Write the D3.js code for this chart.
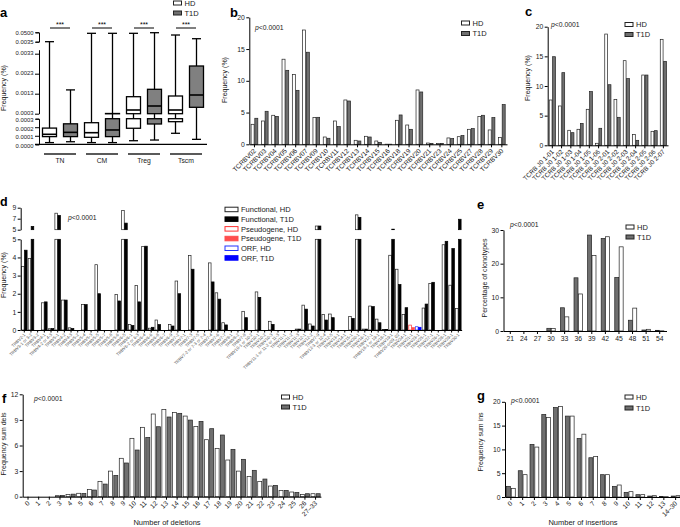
<!DOCTYPE html>
<html><head><meta charset="utf-8">
<script src="https://cdn.jsdelivr.net/npm/d3@7"></script>
<style>body{margin:0;background:#fff}svg{display:block}</style>
</head><body><svg id="c" width="680" height="527"></svg>
<script>
// ---------- DATA ----------
// panel a: box stats [min, q1, median, q3, max] (frequency %)
const aGroups = ["TN","CM","Treg","Tscm"];
const aHD  = [[0.00002,0.00009,0.000117,0.00019,0.0036],[0.00002,0.000082,0.000136,0.000253,0.045],[0.000042,0.000188,0.000485,0.00115,0.045],[0.000129,0.000265,0.000485,0.001185,0.0366]];
const aT1D = [[0.00003,0.00009,0.00014,0.00024,0.00149],[0.00002,0.00009,0.000168,0.00031,0.045],[0.00005,0.000238,0.000685,0.00152,0.048],[0.000058,0.00062,0.001235,0.002685,0.0183]];
const aTicksBottom = [0,0.0001,0.0002,0.0003];
const aTicksMid = [0.0003,0.0013,0.0023,0.0033];
const aTicksTop = [0.0035,0.05];

// panel b: TCRBV families
const bCats = ["TCRBV02","TCRBV03","TCRBV04","TCRBV05","TCRBV06","TCRBV07","TCRBV09","TCRBV10","TCRBV11","TCRBV12","TCRBV13","TCRBV14","TCRBV15","TCRBV16","TCRBV18","TCRBV19","TCRBV20","TCRBV21","TCRBV23","TCRBV24","TCRBV25","TCRBV27","TCRBV28","TCRBV29","TCRBV30"];
const bHD  = [3.15,3.67,4.57,13.4,11.0,18.0,4.2,1.15,3.67,6.98,0.63,1.26,0.52,0.02,3.78,3.04,8.56,0.2,0.15,1.0,1.2,2.36,4.36,2.26,1.05];
const bT1D = [4.1,5.2,4.4,11.65,8.5,14.5,4.25,0.95,2.78,6.82,0.52,1.15,0.31,0.02,4.62,2.36,8.24,0.15,0.15,0.9,1.37,2.47,4.57,4.2,6.25];
const bTicks = [0,5,10,15,20];

// panel c: TCRBJ genes
const cCats = ["TCRB J0 1-01","TCRB J0 1-02","TCRB J0 1-03","TCRB J0 1-04","TCRB J0 1-05","TCRB J0 1-06","TCRB J0 2-01","TCRB J0 2-02","TCRB J0 2-03","TCRB J0 2-04","TCRB J0 2-05","TCRB J0 2-06","TCRB J0 2-07"];
const cHD  = [7.64,6.63,2.53,2.7,6.07,0.34,18.76,7.75,14.27,1.8,11.85,2.36,17.87];
const cT1D = [14.94,12.25,2.13,3.7,9.05,2.87,10.22,4.72,11.24,0.84,11.85,2.47,14.16];
const cTicks = [0,5,10,15,20];

// panel d: TRBV genes (F functional, P pseudogene, O ORF)
const dGenes = ["TRBV2-1","TRBV3-1 or 3-2","TRBV3-2","TRBV4-1","TRBV4-2 or 4-3","TRBV5-1","TRBV4-2","TRBV4-3","TRBV5-2","TRBV5-4","TRBV5-3","TRBV5-5","TRBV5-7","TRBV5-8","TRBV5-6","TRBV6-5","TRBV6-1","TRBV6-2 or 6-3","TRBV6-4","TRBV6-6","TRBV6-8","TRBV6-7","TRBV6-9","TRBV7-2","TRBV7-1","TRBV7-3","TRBV7-5","TRBV7-2 or 7-3 or 7-4","TRBV7-4","TRBV7-6","TRBV7-7","TRBV8-1","TRBV8-2","TRBV7-8","TRBV10-1 or 10-2","TRBV10-1","TRBV10-2","TRBV10-3","TRBV11-1 or 11-2 or 11-3","TRBV11-1","TRBV11-2","TRBV11-3","TRBV12-1","TRBV12-2","TRBV7-9","TRBV12-3 or 12-4","TRBV12-5","TRBV13-1","TRBV14-1","TRBV15-1","TRBV20-1","TRBV16-1","TRBV17-1","TRBV18-1 or 19-1","TRBV18-1","TRBV19-1","TRBV20-or09_02","TRBV24-1","TRBV21-1","TRBV23-1","TRBV25-1","TRBV27-1","TRBV26-1","TRBV28-1","TRBV29-1","TRBV30-1"];
const dHD  = [3.5,3.95,0,1.5,0.07,8.0,1.65,0.12,0,1.4,0,3.6,0,0,1.95,8.5,0.3,2.45,4.6,0.1,0.55,0,0.3,2.7,0,4.1,0,0,3.7,2.05,0.4,0,0,1.03,0,2.1,0,0.48,0,0,0,0.05,1.37,0.33,5.67,0.85,0.88,0,0,0.75,7.7,0.05,1.32,0.6,0.03,4.12,3.35,0.86,0.27,0.18,1.21,2.56,0,4.7,2.47,1.19];
const dT1D = [4.4,5.6,0,1.55,0.08,7.6,1.65,0.08,0,1.4,0,2.0,0,0,1.6,6.2,0.25,1.55,4.62,0.15,0.3,0,0.22,2.0,0,3.35,0,0,2.65,1.7,0.28,0,0,0.68,0,1.8,0,0.31,0,0,0,0.05,1.15,0.22,5.67,0.55,0.68,0,0,0.64,7.25,0.05,1.29,0.4,0.03,5.1,2.51,1.23,0.13,0.15,1.43,2.63,0,4.89,4.49,6.9];
const dType = dGenes.map(g => g==="TRBV21-1" ? "P" : (g==="TRBV23-1" ? "O" : "F"));
const dTicksLow = [0,1,2,3,4,5];
const dTicksHigh = [5,7,9];

// panel e: CDR3 length
const eCats = ["21","24","27","30","33","36","39","42","45","48","51","54"];
const eT1D = [0,0,0,0.8,6.9,15.8,28.5,27.5,15.9,3.2,0.3,0.2];
const eHD  = [0,0,0,0.7,4.2,11.0,22.4,28.0,25.0,6.8,0.5,0.05];
const eTicks = [0,10,20,30];

// panel f: deletions
const fCats = ["0","1","2","3","4","5","6","7","8","9","10","11","12","13","14","15","16","17","18","19","20","21","22","23","24","25","26","27\u201333"];
const fHD  = [0,0,0,0.12,0.27,0.4,0.86,1.8,3.0,4.5,6.84,8.13,9.69,10.23,9.88,9.45,8.24,6.68,5.66,4.3,3.0,2.38,1.8,1.25,0.74,0.55,0.27,0.35];
const fT1D = [0,0,0,0.15,0.3,0.38,0.78,1.48,2.5,3.95,5.47,6.95,8.2,9.34,9.77,8.98,8.83,7.97,7.23,5.55,4.38,3.09,2.07,1.33,0.74,0.5,0.35,0.35];
const fTicks = [0,3,6,9,12];

// panel g: insertions
const gCats = ["0","1","2","3","4","5","6","7","8","9","10","11","12","13","14\u201330"];
const gT1D = [2.24,5.52,11.05,17.34,18.8,17.0,12.3,8.25,4.69,2.24,0.98,0.49,0.2,0.1,0.2];
const gHD  = [1.82,4.69,10.49,16.71,19.0,17.0,13.2,8.53,4.69,2.52,1.12,0.49,0.28,0.07,0.28];
const gTicks = [0,5,10,15,20];

// ---------- DRAWING ----------
const FONT = '"Liberation Sans", Arial, Helvetica, sans-serif';
const svg = d3.select("#c").attr("font-family", FONT);
const GREY = "#6f6f6f";
const TXT = "#1a1a1a";

function styleAxis(g, fs){
  g.selectAll("path.domain").attr("stroke","#000").attr("stroke-width",1);
  g.selectAll(".tick line").attr("stroke","#000").attr("stroke-width",1);
  g.selectAll(".tick text").attr("font-family",FONT).attr("font-size",fs).attr("fill",TXT);
}
function letter(t,x,y,fs){ svg.append("text").attr("x",x).attr("y",y).attr("font-weight","bold").attr("font-size",fs||13).attr("fill","#000").text(t); }
function yTitle(t,x,y,fs){ svg.append("text").attr("transform",`translate(${x},${y}) rotate(-90)`).attr("text-anchor","middle").attr("font-size",fs||7).attr("fill",TXT).text(t); }
function pText(x,y){ const t=svg.append("text").attr("x",x).attr("y",y).attr("font-size",6.8).attr("fill",TXT); t.append("tspan").attr("font-style","italic").text("p"); t.append("tspan").text("<0.0001"); }
function legend(x,y,items,dy,fs,bw,bh){
  items.forEach((it,i)=>{
    const yy = y + i*(dy||10);
    svg.append("rect").attr("x",x).attr("y",yy).attr("width",bw||8).attr("height",bh||4).attr("fill",it.fill).attr("stroke",it.stroke).attr("stroke-width",1);
    svg.append("text").attr("x",x+(bw||8)+3).attr("y",yy+(bh||4)+0.5).attr("font-size",fs||7.5).attr("fill",TXT).text(it.label);
  });
}
const HDs = {label:"HD", fill:"#fff", stroke:"#222"};
const T1Ds = {label:"T1D", fill:GREY, stroke:"#222"};

function barPanel(o){
  const x = d3.scaleBand().domain(o.cats).range([o.x0,o.x1]);
  const y = d3.scaleLinear().domain([0,o.max]).range([o.y0,o.y1]);
  const g = svg.append("g");
  o.series.forEach((s,si)=>{
    const off = si===0 ? -(o.bw + o.gap/2) : o.gap/2;
    g.selectAll(null).data(o.cats.map((c,i)=>({c,v:s.vals[i]})).filter(d=>d.v>0)).enter().append("rect")
      .attr("x", d=>x(d.c)+x.bandwidth()/2+off)
      .attr("y", d=>y(d.v)).attr("width",o.bw).attr("height",d=>o.y0-y(d.v))
      .attr("fill",s.fill).attr("stroke","#222").attr("stroke-width",0.7);
  });
  const ya = g.append("g").attr("transform",`translate(${o.x0},0)`)
    .call(d3.axisLeft(y).tickValues(o.ticks).tickSize(3).tickPadding(1.5).tickSizeOuter(0).tickFormat(d3.format("d")));
  styleAxis(ya, o.tfs||6.8);
  const xa = g.append("g").attr("transform",`translate(0,${o.y0})`)
    .call(d3.axisBottom(x).tickSize(3).tickSizeOuter(0).tickPadding(2));
  styleAxis(xa, o.xfs||6.8);
  if(o.rotate){
    xa.selectAll(".tick text").attr("x",0).attr("y",0).attr("dy",0)
      .attr("text-anchor","end").attr("transform",`translate(${o.rdx||2},${o.rdy||7}) rotate(-45)`);
  }
  return {x,y};
}

// ===== Panel a =====
letter("a",0,17);
legend(173.5,1,[HDs,T1Ds],10,7.5,8,4);
yTitle("Frequency (%)",6,88,7);
const aSegs = [
  {d:[0,0.0003], r:[144.3,118.7], t:aTicksBottom, outer:3, shift:0.9},
  {d:[0.0003,0.0035], r:[113.7,49.7], t:aTicksMid, outer:0, shift:-0.9},
  {d:[0.0035,0.05], r:[41.7,32.3], t:aTicksTop, outer:3, shift:0}
];
aSegs.forEach(s=>{ s.sc = d3.scaleLinear().domain(s.d).range(s.r); });
function aY(v){ const s = v<=0.0003 ? aSegs[0] : (v<=0.0035 ? aSegs[1] : aSegs[2]); return s.sc(v); }
aSegs.forEach(s=>{
  const ax = svg.append("g").attr("transform","translate(39,0)")
    .call(d3.axisLeft(s.sc).tickValues(s.t).tickSize(4).tickPadding(1.5).tickSizeOuter(s.outer).tickFormat(d3.format(".4f")));
  styleAxis(ax,5.9);
  ax.selectAll(".tick text").attr("y",s.shift);
});
svg.append("line").attr("x1",35).attr("x2",207).attr("y1",144.3).attr("y2",144.3).attr("stroke","#000").attr("stroke-width",1.2);
const aX = d3.scaleBand().domain(aGroups).range([39,207]);
function drawBox(cx, st, fill){
  const [mn,q1,md,q3,mx] = st, w=14, cw=9;
  const g = svg.append("g").attr("stroke","#000").attr("stroke-width",1.3);
  g.append("line").attr("x1",cx).attr("x2",cx).attr("y1",aY(mn)).attr("y2",aY(mx));
  [mn,mx].forEach(v=>g.append("line").attr("x1",cx-cw/2).attr("x2",cx+cw/2).attr("y1",aY(v)).attr("y2",aY(v)));
  aSegs.forEach(s=>{
    const lo=Math.max(q1,s.d[0]), hi=Math.min(q3,s.d[1]);
    if(lo<hi) g.append("rect").attr("x",cx-w/2).attr("y",s.sc(hi)).attr("width",w).attr("height",Math.max(0.3,s.sc(lo)-s.sc(hi))).attr("fill",fill);
  });
  g.append("line").attr("x1",cx-w/2).attr("x2",cx+w/2).attr("y1",aY(md)).attr("y2",aY(md)).attr("stroke-width",1.6);
}
aGroups.forEach((gname,i)=>{
  const c = aX(gname)+aX.bandwidth()/2;
  drawBox(c-10.5, aHD[i], "#fff");
  drawBox(c+10.5, aT1D[i], "#808080");
  svg.append("line").attr("x1",c-10).attr("x2",c+10).attr("y1",28).attr("y2",28).attr("stroke","#000").attr("stroke-width",1);
  svg.append("text").attr("x",c).attr("y",27).attr("text-anchor","middle").attr("font-size",7).text("***");
  svg.append("line").attr("x1",c-16).attr("x2",c+16).attr("y1",154).attr("y2",154).attr("stroke","#000").attr("stroke-width",1.3);
  svg.append("text").attr("x",c).attr("y",163).attr("text-anchor","middle").attr("font-size",6.8).attr("fill",TXT).text(gname);
});

// ===== Panel b =====
letter("b",230,17);
yTitle("Frequency (%)",227,80,7);
barPanel({cats:bCats, series:[{vals:bHD,fill:"#fff"},{vals:bT1D,fill:GREY}], x0:249.3, x1:507, y0:144.3, y1:17.3, max:20, ticks:bTicks, bw:3, gap:0.7, rotate:true, xfs:6.6});
pText(255,30);
legend(461.5,21,[HDs,T1Ds],10.5,7.5,8,4);

// ===== Panel c =====
letter("c",525,16);
yTitle("Frequency (%)",530,78,7);
barPanel({cats:cCats, series:[{vals:cHD,fill:"#fff"},{vals:cT1D,fill:GREY}], x0:547.7, x1:668, y0:145.3, y1:26.7, max:20, ticks:cTicks, bw:2.8, gap:0.6, rotate:true, xfs:6.4});
pText(551,27);
legend(625,22.5,[HDs,T1Ds],10,7.5,8,4);

// ===== Panel d =====
letter("d",0,206,12.5);
yTitle("Frequency (%)",6,275,7);
{
  const x = d3.scaleBand().domain(dGenes).range([20.96,461.64]);
  const yL = d3.scaleLinear().domain([0,5]).range([330,239.3]);
  const yU = d3.scaleLinear().domain([5,9]).range([229.7,207.7]);
  const col = {F:["#222","#000"], P:["#ff3030","#ff4d4d"], O:["#2233ff","#0000ff"]};
  const bw=2.6, gap=0.4;
  const g = svg.append("g");
  [dHD,dT1D].forEach((vals,si)=>{
    const off = si===0 ? -(bw+gap/2) : gap/2;
    const data = dGenes.map((c,i)=>({c,v:vals[i],t:dType[i]})).filter(d=>d.v>0);
    const fill = d=> si===0 ? "#fff" : col[d.t][1];
    const stroke = d=> si===0 ? col[d.t][0] : col[d.t][1];
    g.selectAll(null).data(data).enter().append("rect")
      .attr("x",d=>x(d.c)+x.bandwidth()/2+off).attr("width",bw)
      .attr("y",d=>yL(Math.min(d.v,5))).attr("height",d=>330-yL(Math.min(d.v,5)))
      .attr("fill",fill).attr("stroke",stroke).attr("stroke-width",0.7);
    g.selectAll(null).data(data.filter(d=>d.v>5)).enter().append("rect")
      .attr("x",d=>x(d.c)+x.bandwidth()/2+off).attr("width",bw)
      .attr("y",d=>yU(d.v)).attr("height",d=>Math.max(0.5,229.7-yU(d.v)))
      .attr("fill",fill).attr("stroke",stroke).attr("stroke-width",0.7);
  });
  const ya1 = svg.append("g").attr("transform","translate(20.7,0)").call(d3.axisLeft(yL).tickValues(dTicksLow).tickSize(3).tickPadding(1.5).tickSizeOuter(0).tickFormat(d3.format("d")));
  styleAxis(ya1,6.8);
  const ya2 = svg.append("g").attr("transform","translate(20.7,0)").call(d3.axisLeft(yU).tickValues(dTicksHigh).tickSize(3).tickPadding(1.5).tickSizeOuter(0).tickFormat(d3.format("d")));
  styleAxis(ya2,6.8);
  const xa = svg.append("g").attr("transform","translate(0,330)").call(d3.axisBottom(x).tickSize(2.5).tickSizeOuter(0));
  styleAxis(xa,4.3);
  xa.selectAll(".tick text").attr("x",0).attr("y",0).attr("dy",0).attr("fill","#555")
    .attr("text-anchor","end").attr("transform","translate(1.5,5) rotate(-45)");
}
pText(68,220);
legend(225,207.2,[
  {label:"Functional, HD",fill:"#fff",stroke:"#222"},
  {label:"Functional, T1D",fill:"#000",stroke:"#000"},
  {label:"Pseudogene, HD",fill:"#fff",stroke:"#ff3030"},
  {label:"Pseudogene, T1D",fill:"#ff4d4d",stroke:"#ff4d4d"},
  {label:"ORF, HD",fill:"#fff",stroke:"#2233ff"},
  {label:"ORF, T1D",fill:"#0000ff",stroke:"#0000ff"}
],9.7,7.5,13,4.5);

// ===== Panel e =====
letter("e",477,209);
yTitle("Percentage of clonotypes",487,278,7);
barPanel({cats:eCats, series:[{vals:eT1D,fill:GREY},{vals:eHD,fill:"#fff"}], x0:503.5, x1:666.5, y0:331, y1:230, max:30, ticks:eTicks, bw:4, gap:0.4, rotate:false, xfs:6.8});
pText(510,227);
legend(626,225,[HDs,T1Ds],10,7.5,8,4);

// ===== Panel f =====
letter("f",2,403);
yTitle("Frequency sum dels",6,444,7);
barPanel({cats:fCats, series:[{vals:fHD,fill:"#fff"},{vals:fT1D,fill:GREY}], x0:22.7, x1:320.9, y0:496.7, y1:394.3, max:12, ticks:fTicks, bw:4, gap:1.2, rotate:true, xfs:6.6});
pText(34,401);
legend(281.5,395,[HDs,T1Ds],10,7.5,8,4);
svg.append("text").attr("x",167).attr("y",525).attr("text-anchor","middle").attr("font-size",7.5).attr("fill",TXT).text("Number of deletions");

// ===== Panel g =====
letter("g",477,400);
yTitle("Frequency sum ins",483,442,7);
barPanel({cats:gCats, series:[{vals:gT1D,fill:GREY},{vals:gHD,fill:"#fff"}], x0:505, x1:681.5, y0:497, y1:401.8, max:20, ticks:gTicks, bw:4, gap:0.8, rotate:true, xfs:6.6});
pText(511,403);
legend(625,395,[HDs,T1Ds],11,7.5,8,4);
svg.append("text").attr("x",583).attr("y",525).attr("text-anchor","middle").attr("font-size",7.5).attr("fill",TXT).text("Number of insertions");
</script>
</body></html>
